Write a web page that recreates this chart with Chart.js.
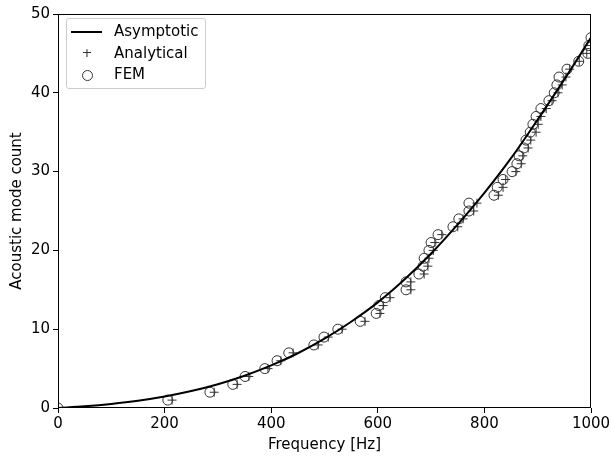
<!DOCTYPE html>
<html>
<head>
<meta charset="utf-8">
<script src="https://cdn.jsdelivr.net/npm/chart.js@4/dist/chart.umd.min.js"></script>
<style>
html, body { margin: 0; padding: 0; background: #fff; }
#wrap { position: relative; width: 611px; height: 457px; }
#legend {
    position: absolute; left: 66px; top: 18px; width: 138px; height: 69px;
    border: 1px solid #cccccc; border-radius: 3px; background: rgba(255,255,255,0.8);
    font: 15px "DejaVu Sans", sans-serif; color: #000;
}
.row { position: absolute; left: 0; height: 20px; line-height: 20px; }
.sym { position: absolute; left: 5px; width: 30px; text-align: center; color: #333; }
.lab { position: absolute; left: 47px; white-space: nowrap; }
.line { position: absolute; left: 4px; top: 10px; width: 31px; height: 2px; background: #000; }
.circ { position: absolute; left: 15px; top: 6px; width: 9px; height: 9px; border: 1px solid #333; border-radius: 50%; }
</style>
</head>
<body>
<div id="wrap">
    <canvas id="chart" width="611" height="457"></canvas>
    <div id="legend">
        <div class="row" style="top:2px"><div class="line"></div><span class="lab">Asymptotic</span></div>
        <div class="row" style="top:24px"><span class="sym" style="font-size:13px">+</span><span class="lab">Analytical</span></div>
        <div class="row" style="top:45px"><div class="circ"></div><span class="lab">FEM</span></div>
    </div>
</div>
<script>
// asymptotic curve, read every 50 Hz
const asymFreq = [0, 50, 100, 150, 200, 250, 300, 350, 400, 450, 500, 550, 600, 650, 700, 750, 800, 850, 900, 950, 1000];
const asymCount = [0, 0.22, 0.52, 0.92, 1.46, 2.15, 3.02, 4.1, 5.4, 6.95, 8.8, 10.95, 13.4, 16.3, 19.6, 23.3, 27.3, 31.7, 36.6, 41.7, 47.0];

const analyticalFreq = [0, 214, 293, 336, 358, 394, 418, 441, 488, 507, 533, 576, 604, 610, 623, 662, 662, 687, 694, 696, 704, 707, 720, 750, 760, 780, 786, 826, 835, 840, 859, 869, 872, 882, 887, 897, 901, 906, 916, 927, 938, 946, 953, 960, 978, 992, 1000];
const analyticalCount = [0, 1, 2, 3, 4, 5, 6, 7, 8, 9, 10, 11, 12, 13, 14, 15, 16, 17, 18, 19, 20, 21, 22, 23, 24, 25, 26, 27, 28, 29, 30, 31, 32, 33, 34, 35, 36, 37, 38, 39, 40, 41, 42, 43, 44, 45, 46];

const femFreq = [0, 206, 285, 328, 351, 388, 411, 433, 480, 499, 525, 567, 597, 602, 614, 653, 653, 677, 685, 687, 696, 700, 713, 741, 752, 771, 771, 818, 824, 835, 852, 861, 865, 874, 878, 886, 891, 897, 906, 921, 931, 936, 940, 955, 977, 994, 996, 1000];
const femCount = [0, 1, 2, 3, 4, 5, 6, 7, 8, 9, 10, 11, 12, 13, 14, 15, 16, 17, 18, 19, 20, 21, 22, 23, 24, 25, 26, 27, 28, 29, 30, 31, 32, 33, 34, 35, 36, 37, 38, 39, 40, 41, 42, 43, 44, 45, 46, 47];

const xTicks = [0, 200, 400, 600, 800, 1000];
const yTicks = [0, 10, 20, 30, 40, 50];

const pts = (xs, ys) => xs.map((x, i) => ({ x: x, y: ys[i] }));

// matplotlib-like frame around the plot area
const frame = {
    id: "frame",
    afterDatasetsDraw(chart) {
        const a = chart.chartArea, c = chart.ctx;
        c.save();
        c.strokeStyle = "#000";
        c.lineWidth = 1;
        c.strokeRect(a.left + 0.5, a.top + 0.5, a.right - a.left - 1, a.bottom - a.top - 1);
        c.restore();
    }
};

const font = { family: "DejaVu Sans", size: 15 };

new Chart(document.getElementById("chart"), {
    type: "scatter",
    data: {
        datasets: [{
            label: "Asymptotic",
            type: "line",
            data: pts(asymFreq, asymCount),
            borderColor: "#000",
            borderWidth: 2,
            pointRadius: 0,
            cubicInterpolationMode: "monotone",
            fill: false,
            order: 0
        }, {
            label: "Analytical",
            data: pts(analyticalFreq, analyticalCount),
            pointStyle: "cross",
            pointRadius: 4.5,
            borderColor: "#333",
            borderWidth: 1,
            clip: 0,
            order: 1
        }, {
            label: "FEM",
            data: pts(femFreq, femCount),
            pointStyle: "circle",
            pointRadius: 5,
            borderColor: "#333",
            backgroundColor: "rgba(0,0,0,0)",
            borderWidth: 1,
            clip: 0,
            order: 2
        }]
    },
    options: {
        responsive: false,
        animation: false,
        layout: { padding: { top: 14, right: 20, left: 0, bottom: 0 } },
        plugins: { legend: { display: false }, tooltip: { enabled: false } },
        scales: {
            x: {
                type: "linear", min: 0, max: 1000,
                afterBuildTicks: s => { s.ticks = xTicks.map(v => ({ value: v })); },
                afterFit: s => { s.height = 49; s.paddingLeft = 0; s.paddingRight = 0; },
                ticks: { color: "#000", font: font, padding: 2, maxRotation: 0, callback: v => String(v) },
                grid: { drawOnChartArea: false, tickLength: 5, color: "#000" },
                border: { display: false },
                title: { display: true, text: "Frequency [Hz]", color: "#000", font: font, padding: { top: 0, bottom: 3 } }
            },
            y: {
                type: "linear", min: 0, max: 50,
                afterBuildTicks: s => { s.ticks = yTicks.map(v => ({ value: v })); },
                afterFit: s => { s.width = 58; s.paddingTop = 0; s.paddingBottom = 0; },
                ticks: { color: "#000", font: font, padding: 3, callback: v => String(v) },
                grid: { drawOnChartArea: false, tickLength: 5, color: "#000" },
                border: { display: false },
                title: { display: true, text: "Acoustic mode count", color: "#000", font: font, padding: { top: 8, bottom: 0 } }
            }
        }
    },
    plugins: [frame]
});
</script>
</body>
</html>
